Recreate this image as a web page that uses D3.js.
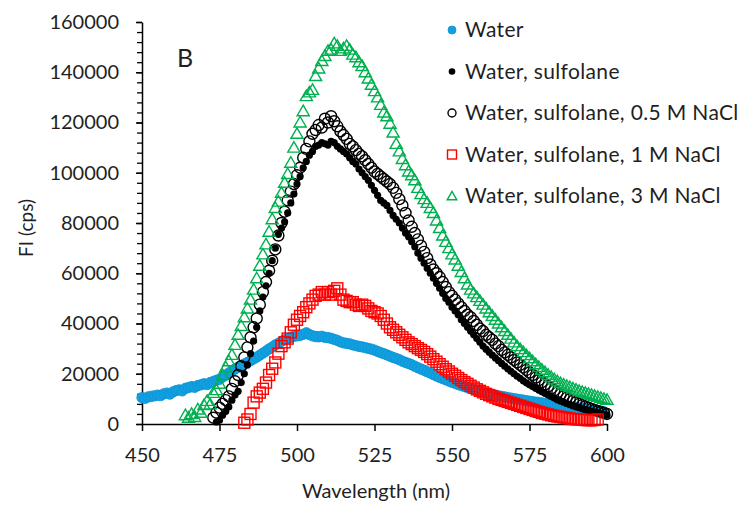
<!DOCTYPE html>
<html>
<head>
<meta charset="utf-8">
<script src="https://cdn.jsdelivr.net/npm/d3@7"></script>
<style>
  body { margin: 0; background: #fff; }
  svg text { font-family: Lato, "Open Sans", sans-serif; fill: #1f1f1f; }
</style>
</head>
<body>
<svg id="chart" width="753" height="505"></svg>
<script>
// series names (legend order)
const seriesNames = ["Water", "Water, sulfolane", "Water, sulfolane, 0.5 M NaCl", "Water, sulfolane, 1 M NaCl", "Water, sulfolane, 3 M NaCl"];
const xTicks = [450, 475, 500, 525, 550, 575, 600];
const yTicks = [0, 20000, 40000, 60000, 80000, 100000, 120000, 140000, 160000];

// first wavelength of each series, one point per nm after it
const startNm = [450, 474, 473, 483, 464];

const water = [
  10500, 10200, 10800, 11000, 11200, 11500, 11300, 12000, 12300, 11900,
  12800, 13300, 13600, 13200, 14200, 14500, 14900, 14600, 15300, 15600,
  16000, 15700, 16500, 16900, 17400, 17800, 18700, 19500, 20300, 21100,
  21900, 22600, 23300, 23900, 24500, 25200, 25900, 26600, 27400, 28200,
  29000, 29900, 30600, 31500, 32100, 32900, 33500, 33900, 34500, 34900,
  35100, 35300, 35700, 36300, 35600, 35100, 34800, 34700, 34900, 34500,
  34400, 34100, 33700, 33300, 32700, 32300, 32100, 31900, 31500, 31200,
  30900, 30700, 30400, 30100, 29800, 29400, 28900, 28400, 28000, 27500,
  27000, 26500, 26100, 25600, 25000, 24500, 24100, 23600, 23000, 22400,
  21900, 21400, 20800, 20300, 19700, 19100, 18600, 18100, 17600, 17100,
  16600, 16200, 15700, 15300, 14900, 14500, 14100, 13700, 13300, 13000,
  12600, 12300, 12000, 11700, 11500, 11200, 11000, 10800, 10500, 10300,
  10100, 9900, 9700, 9500, 9300, 9100, 8900, 8700, 8600, 8400,
  8200, 8000, 7900, 7700, 7600, 7400, 7200, 7100, 6900, 6800,
  6600, 6400, 6300, 6100, 5900, 5700, 5500, 5300, 5100, 4900
];

const sulfolane = [
  800, 1500, 3500, 5000, 6800, 9500, 11500, 13000, 16500, 20000,
  23500, 28000, 33000, 38500, 45000, 50500, 55000, 60000, 65000, 70000,
  75500, 78000, 80500, 84000, 88000, 91500, 95500, 98500, 102000, 104500,
  107000, 108500, 110500, 111000, 112000, 111500, 111000, 112500, 112000, 110500,
  109500, 108500, 107500, 106000, 104500, 103500, 101500, 100000, 98500, 97000,
  95000, 93000, 91000, 89000, 88000, 87000, 85000, 83000, 81500, 80000,
  78000, 76000, 74500, 72500, 70500, 68000, 66000, 64000, 62000, 60000,
  58000, 56000, 54000, 52000, 50000, 48500, 46500, 45000, 43500, 41500,
  40000, 38500, 37000, 35500, 34000, 32500, 31000, 29800, 28600, 27400,
  26300, 25200, 24100, 23000, 22000, 21000, 20000, 19000, 18200, 17200,
  16400, 15600, 14900, 14200, 13500, 12800, 12200, 11500, 10900, 10300,
  9700, 9200, 8700, 8200, 7700, 7300, 6900, 6500, 6100, 5700,
  5400, 5000, 4700, 4400, 4100, 3800, 3500
];

const nacl05 = [
  2500, 4500, 6500, 8000, 9500, 11000, 14000, 17000, 19500, 23000,
  26500, 30500, 34500, 38500, 42000, 47500, 52500, 56500, 61000, 65000,
  69500, 75000, 80000, 84500, 89000, 92500, 95500, 99000, 102000, 106000,
  109500, 112500, 115500, 117000, 119000, 118000, 121500, 120000, 122500, 120500,
  118500, 116500, 115000, 113500, 111500, 110500, 109000, 107500, 106500, 105000,
  103500, 102000, 100500, 99500, 98500, 97500, 96500, 95500, 94000, 92000,
  89500, 87000, 84000, 81000, 78500, 76000, 73500, 71000, 68500, 66000,
  63500, 61500, 60000, 58500, 56500, 54500, 52500, 51000, 49500, 48000,
  46500, 45000, 43500, 42500, 41000, 39500, 38000, 37000, 35500, 34500,
  33500, 32000, 31000, 29500, 28500, 27500, 26500, 25500, 24500, 23500,
  22500, 21500, 20500, 19500, 18500, 17500, 16700, 15800, 15000, 14200,
  13400, 12600, 11800, 11000, 10400, 9800, 9200, 8600, 8000, 7500,
  7000, 6500, 6000, 5600, 5200, 4800, 4400, 4000
];

const nacl1 = [
  500, 1800, 4000, 8500, 11000, 12500, 14000, 16500, 19500, 22000,
  24500, 28000, 31000, 32500, 34000, 36500, 39500, 41500, 43000, 44500,
  46500, 48000, 49500, 51000, 51500, 52500, 51500, 52500, 51500, 53000,
  54000, 51500, 49500, 49000, 48500, 48500, 47500, 47000, 47500, 47000,
  46000, 45000, 44500, 44000, 43000, 41500, 40000, 38500, 37500, 36500,
  35500, 34500, 33500, 32500, 31800, 31000, 30200, 29500, 28700, 27800,
  26800, 25800, 24800, 23800, 22800, 21800, 20900, 20000, 19200, 18300,
  17500, 16700, 16000, 15200, 14500, 13800, 13200, 12600, 12000, 11500,
  11000, 10500, 10000, 9600, 9200, 8800, 8400, 8000, 7600, 7200,
  6800, 6400, 6000, 5600, 5200, 4800, 4400, 4100, 3800, 3500,
  3200, 3000, 2800, 2600, 2400, 2200, 2000, 1900, 1800, 1700,
  1600, 1500, 1500, 1600, 1800
];

const nacl3 = [
  3500, 2500, 4000, 2800, 5800, 4500, 7500, 9200, 7800, 12400,
  13500, 16000, 19500, 22500, 25000, 27500, 31500, 35500, 39000, 42500,
  46000, 49500, 53500, 58000, 63000, 67500, 71500, 76500, 81500, 86000,
  88500, 92000, 96000, 99500, 104000, 110000, 115500, 120000, 124500, 130500,
  132000, 133000, 138500, 141500, 144500, 146500, 148500, 149000, 151500, 150500,
  148500, 149500, 150500, 149000, 147000, 146000, 144000, 142500, 140000, 137500,
  135000, 132500, 130000, 127000, 124000, 122500, 119500, 116000, 111500, 108500,
  105500, 103000, 100500, 99000, 97000, 94000, 91500, 89500, 88000, 86000,
  84000, 81000, 78000, 75000, 72500, 70000, 67500, 65500, 63000, 60500,
  58000, 55500, 53500, 52000, 50500, 49000, 47500, 46000, 44500, 43000,
  41500, 40000, 38500, 37000, 35500, 34000, 32500, 31000, 29800, 28600,
  27400, 26200, 25000, 23800, 22700, 21600, 20600, 19600, 18700, 17800,
  17000, 16300, 15700, 15200, 14700, 14200, 13700, 13200, 12800, 12400,
  12000, 11600, 11200, 10800, 10400, 10000, 9600
];

const seriesValues = [water, sulfolane, nacl05, nacl1, nacl3];

const svg = d3.select("#chart");

const x = d3.scaleLinear().domain([450, 600]).range([142, 607]);
const y = d3.scaleLinear().domain([0, 160000]).range([424, 22]);

// minor y ticks
svg.append("g")
  .attr("transform", "translate(142,0)")
  .call(d3.axisLeft(y).tickValues(d3.range(0, 160001, 4000)).tickSize(5).tickSizeOuter(0).tickFormat(""))
  .call(g => g.select(".domain").remove())
  .call(g => g.selectAll("line").attr("stroke", "#000").attr("stroke-width", 1.3));

// major y axis
svg.append("g")
  .attr("transform", "translate(142,0)")
  .call(d3.axisLeft(y).tickValues(yTicks).tickSize(6).tickSizeOuter(0).tickPadding(17).tickFormat(d3.format("d")))
  .call(g => g.select(".domain").attr("stroke", "#000").attr("stroke-width", 1.5))
  .call(g => g.selectAll("line").attr("stroke", "#000").attr("stroke-width", 1.5))
  .call(g => g.selectAll("text").attr("font-size", 20).attr("fill", "#1f1f1f"));

// x axis
svg.append("g")
  .attr("transform", "translate(0,424)")
  .call(d3.axisBottom(x).tickValues(xTicks).tickSize(7).tickSizeOuter(0).tickPadding(17))
  .call(g => g.select(".domain").attr("stroke", "#000").attr("stroke-width", 1.5))
  .call(g => g.selectAll("line").attr("stroke", "#000").attr("stroke-width", 1.5))
  .call(g => g.selectAll("text").attr("font-size", 20).attr("fill", "#1f1f1f"));

// axis titles
svg.append("text")
  .attr("transform", "translate(33,228) rotate(-90)")
  .attr("text-anchor", "middle")
  .attr("font-size", 19)
  .text("FI (cps)");

svg.append("text")
  .attr("x", 376).attr("y", 498)
  .attr("text-anchor", "middle")
  .attr("font-size", 20)
  .text("Wavelength (nm)");

svg.append("text")
  .attr("x", 177).attr("y", 67)
  .attr("font-size", 25)
  .text("B");

const triangle = d3.symbol().type(d3.symbolTriangle);

function drawMarker(g, k, big) {
  if (k === 0) {
    g.append("circle").attr("r", big ? 5.2 : 4).attr("fill", "#12a0e0").attr("stroke", "#0a93d6").attr("stroke-width", 0.8);
  } else if (k === 1) {
    g.append("circle").attr("r", big ? 3.6 : 3.3).attr("fill", "#000");
  } else if (k === 2) {
    g.append("circle").attr("r", big ? 5.5 : 4).attr("fill", "none").attr("stroke", "#000").attr("stroke-width", 1.4);
  } else if (k === 3) {
    const s = big ? 11 : 9;
    g.append("rect").attr("x", -s / 2).attr("y", -s / 2).attr("width", s).attr("height", s)
      .attr("fill", "none").attr("stroke", "#ff0000").attr("stroke-width", 1.4);
  } else {
    g.append("path").attr("d", triangle.size(big ? 64 : 40)()).attr("transform", "translate(0,1)")
      .attr("fill", "none").attr("stroke", "#00b050").attr("stroke-width", 1.4);
  }
}

// points
seriesValues.forEach((vals, k) => {
  const layer = svg.append("g").attr("class", "series-" + k);
  layer.selectAll("g")
    .data(vals.map((v, i) => ({ nm: startNm[k] + i, v: v })))
    .enter()
    .append("g")
    .attr("transform", d => `translate(${x(d.nm)},${y(d.v)})`)
    .each(function () { drawMarker(d3.select(this), k, true); });
});

// legend
const legend = svg.append("g");
seriesNames.forEach((name, k) => {
  const row = legend.append("g").attr("transform", `translate(452,${30 + k * 41.5})`);
  drawMarker(row, k, false);
  row.append("text")
    .attr("x", 13).attr("y", 7)
    .attr("font-size", 21)
    .attr("letter-spacing", 0.35)
    .text(name);
});
</script>
</body>
</html>
